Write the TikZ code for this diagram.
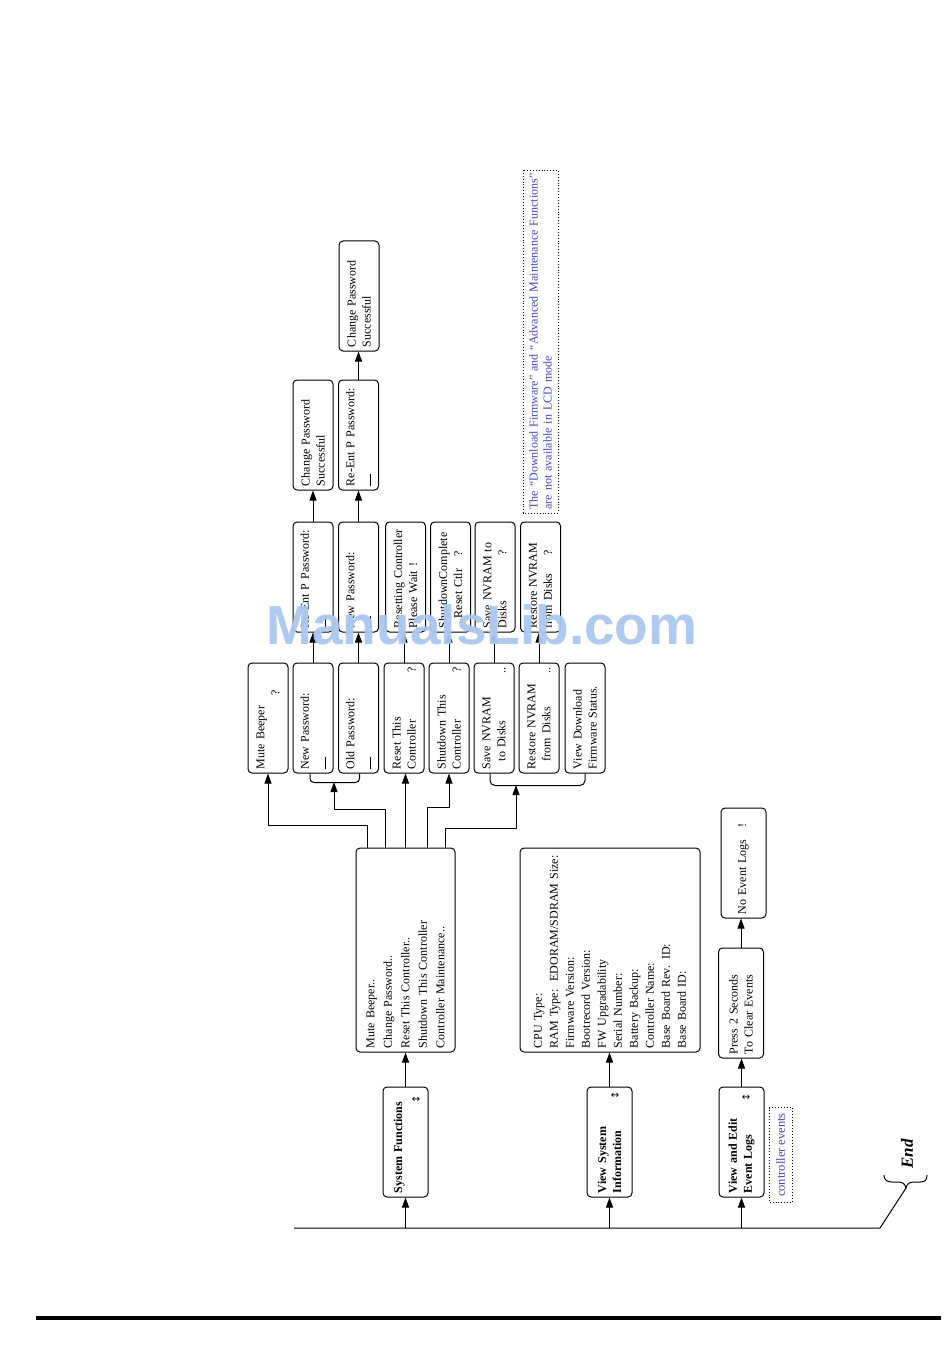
\documentclass[tikz,border=0pt]{standalone}
\usepackage{fontspec}
\setmainfont{Liberation Serif}
\newfontfamily\wmfont{Liberation Sans}
\newfontfamily\symfont{DejaVu Sans}
\usetikzlibrary{arrows.meta}
\definecolor{noteblue}{RGB}{70,70,190}
\definecolor{wmblue}{RGB}{170,200,240}
\newcommand{\cur}{\rule[-1.5pt]{12pt}{0.8pt}}
\begin{document}
\begin{tikzpicture}[x=1pt,y=-1pt, line width=1pt,
  arr/.style={-{Triangle[length=10pt,width=7pt]}},
  lcd/.style={draw, rounded corners=4pt, rotate=90, minimum width=110pt, minimum height=40pt,
    text width=102pt, inner xsep=4pt, inner ysep=2pt, align=left, font=\fontsize{12}{15}\selectfont},
  evbox/.style={lcd, minimum height=45pt},
  mainbox/.style={lcd, minimum height=45pt, font=\fontsize{12}{15}\selectfont\bfseries},
  bigbox/.style={lcd, minimum width=204pt, text width=196pt, inner xsep=4pt},
  updown/.style={font=\symfont\fontsize{10}{10}\selectfont, inner sep=0pt},
  notebox/.style={draw=black, dotted, line width=0.9pt, rotate=90, text=noteblue, align=left, inner sep=3pt}
]
\fill[white] (0,0) rectangle (950,1356);
\useasboundingbox (0,0) rectangle (950,1356);

% main menu
\node[mainbox] (sf) at (405.5,1142) {System Functions\\\mbox{}};
\node[mainbox] (vsi) at (609.5,1142) {View System\\Information};
\node[mainbox] (vel) at (741.5,1142) {View and Edit\\Event Logs};
\node[updown] (ud1) at (416,1100) {↔};
\node[updown] (ud2) at (615,1096) {↔};
\node[updown] (ud3) at (746,1098) {↔};
\node[notebox, minimum width=95pt, minimum height=23pt, font=\fontsize{12.5}{14}\selectfont] (ce) at (780.5,1155) {controller events};

% baseline and End
\coordinate (bl) at (294,1228);
\coordinate (br) at (880,1228);
\coordinate (tip) at (906,1188);
\draw (bl) -- (br) -- (tip);
\draw (884,1175) .. controls (884,1180) and (887,1182) .. (892,1182) -- (898,1182)
  .. controls (903,1182) and (905,1184) .. (tip)
  .. controls (907,1184) and (909,1182) .. (914,1182) -- (920,1182)
  .. controls (925,1182) and (927,1180) .. (927,1175);
\node[rotate=90, font=\fontsize{17}{17}\selectfont\bfseries\itshape] (end) at (907,1154) {End};
\draw[arr] (sf.west |- bl) -- (sf.west);
\draw[arr] (vsi.west |- bl) -- (vsi.west);
\draw[arr] (vel.west |- bl) -- (vel.west);
\draw[line width=4.5pt] (36,1318) -- (941,1318);

% system functions submenu
\node[bigbox, minimum height=99pt, font=\fontsize{12}{17.5}\selectfont] (sm) at (405.5,950)
  {Mute Beeper..\\Change Password..\\Reset This Controller..\\Shutdown This Controller\\Controller Maintenance..};
\draw[arr] (sf.east) -- (sf.east |- sm.west);

% level 2
\node[lcd] (mb) at (268,718) {Mute Beeper\\\hspace*{74pt}?};
\node[lcd] (np) at (313,718) {New Password:\\\cur};
\node[lcd] (op) at (358.5,718) {Old Password:\\\cur};
\node[lcd] (rt) at (404,718) {Reset This\\Controller\hfill ?};
\node[lcd] (sd) at (449,718) {Shutdown This\\Controller\hfill ?};
\node[lcd] (sv) at (494,718) {Save NVRAM\\\hspace*{8pt}to Disks\hfill ..};
\node[lcd] (rs) at (539,718) {Restore NVRAM\\\hspace*{8pt}from Disks\hfill ..};
\node[lcd] (vd) at (585,718) {View Download\\Firmware Status.};

% brackets
\coordinate (b1) at (334,782);
\coordinate (b2) at (516,785);
\draw[rounded corners=4pt] ([xshift=-3pt]np.west) -- ++(0,9) -| ([xshift=1pt]op.west);
\draw[rounded corners=5pt] ([xshift=-4pt]sv.west) -- ++(0,12) -| (vd.west);

% connectors from submenu
\draw[arr] ([xshift=-38.5pt]sm.east) -- ++(0,-22) -| (mb.west);
\draw[arr] ([xshift=-20.5pt]sm.east) -- ++(0,-38) -| (b1);
\draw[arr] (sm.east) -- (sm.east |- rt.west);
\draw[arr] ([xshift=21.5pt]sm.east) -- ++(0,-40) -| (sd.west);
\draw[arr] ([xshift=39.5pt]sm.east) -- ++(0,-19) -| (b2);

% level 3
\node[lcd] (re3) at (313,577) {Re-Ent P Password:\\\cur};
\node[lcd] (np3) at (358.5,577) {New Password:\\\cur};
\node[lcd] (rc3) at (405.5,577) {Resetting Controller\\Please Wait !};
\node[lcd] (sc3) at (450.5,577) {ShutdownComplete\\\hspace*{10pt}Reset Ctlr\hspace{12pt}?};
\node[lcd] (sv3) at (495,577) {Save NVRAM to\\Disks\hspace{45pt}?};
\node[lcd] (rs3) at (540.5,577) {Restore NVRAM\\from Disks\hspace{18pt}?};
\draw[arr] (np.east) -- (np.east |- re3.west);
\draw[arr] (op.east) -- (op.east |- np3.west);
\draw[arr] (rt.east) -- (rt.east |- rc3.west);
\draw[arr] (sd.east) -- (sd.east |- sc3.west);
\draw[arr] (sv.east) -- (sv.east |- sv3.west);
\draw[arr] (rs.east) -- (rs.east |- rs3.west);

% level 4 and 5
\node[lcd] (cp4) at (313,435) {Change Password\\Successful};
\node[lcd] (rp4) at (358.5,435) {Re-Ent P Password:\\\cur};
\node[lcd] (cp5) at (359,296) {Change Password\\Successful};
\draw[arr] (re3.east) -- (re3.east |- cp4.west);
\draw[arr] (np3.east) -- (np3.east |- rp4.west);
\draw[arr] (rp4.east) -- (rp4.east |- cp5.west);

% note
\node[notebox, minimum width=343pt, minimum height=35pt, text width=336pt, font=\fontsize{12}{14}\selectfont] (note) at (540.5,341.5)
  {The “Download Firmware” and “Advanced Maintenance Functions”\\are not available in LCD mode};

% system information
\node[bigbox, minimum height=180pt, font=\fontsize{12}{16}\selectfont] (ib) at (610,950)
  {CPU Type:\\RAM Type:\ \ EDORAM/SDRAM Size:\\Firmware Version:\\Bootrecord Version:\\FW Upgradability\\Serial Number:\\Battery Backup:\\Controller Name:\\Base Board Rev. ID:\\Base Board ID:};
\draw[arr] (vsi.east) -- (vsi.east |- ib.west);

% event logs
\node[evbox] (pr) at (741,1003) {Press 2 Seconds\\To Clear Events};
\node[evbox] (ne) at (743.5,863) {No Event Logs\quad !};
\draw[arr] (vel.east) -- (vel.east |- pr.west);
\draw[arr] (pr.east) -- (pr.east |- ne.west);

% watermark
\node[font=\wmfont\bfseries\fontsize{55}{55}\selectfont, text=wmblue, opacity=0.95] (wm) at (482,625) {ManualsLib.com};
\end{tikzpicture}
\end{document}
